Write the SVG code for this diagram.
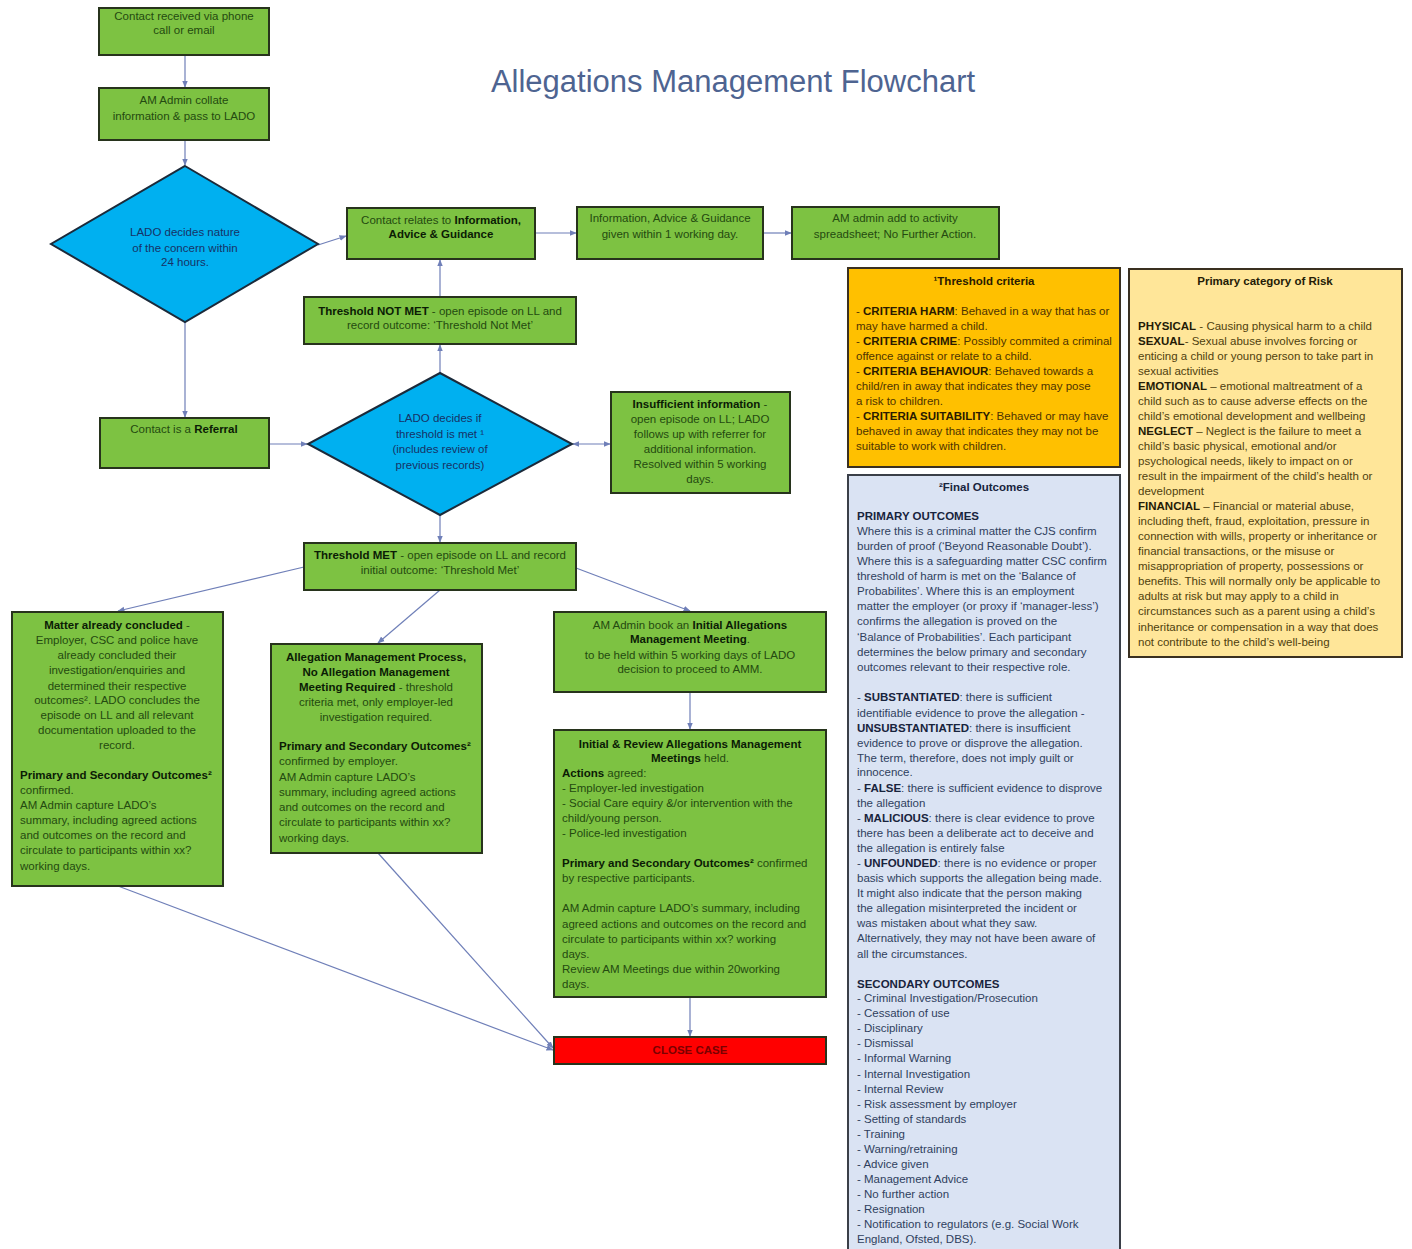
<svg xmlns="http://www.w3.org/2000/svg" width="1412" height="1249" viewBox="0 0 1412 1249">
<style>
text{font-family:"Liberation Sans",Arial,sans-serif;font-size:11.5px}
.gb{fill:#7DC242;stroke:#27331C;stroke-width:2}
.dm{fill:#00B0F0;stroke:#1B2A3A;stroke-width:2}
.gt{fill:#244A10}
.gt .b,.b{font-weight:bold}
.gt .b{fill:#0B1C05}
.c{text-anchor:middle}
.dt{fill:#173266}
.ot{fill:#4E3300}
.ot .b{fill:#2A1B00}
.yt{fill:#4F3F0E}
.yt .b{fill:#241B06}
.bt{fill:#2F3F5E}
.bt .b{fill:#18243D}
.cn line{stroke:#6F7FB8;stroke-width:1.2;fill:none}
</style>
<defs>
<marker id="ah" viewBox="0 0 10 10" refX="9" refY="5" markerWidth="6" markerHeight="6" orient="auto-start-reverse"><path d="M0,1 L10,5 L0,9 z" fill="#6F7FB8"/></marker>
</defs>
<rect width="1412" height="1249" fill="#ffffff"/>
<text x="733" y="92" class="c" style="font-size:31px;fill:#4E6491">Allegations Management Flowchart</text>

<g id="connectors" class="cn">
<line x1="185" y1="55" x2="185" y2="87" marker-end="url(#ah)"/>
<line x1="185" y1="140" x2="185" y2="165" marker-end="url(#ah)"/>
<line x1="318" y1="245" x2="346" y2="236" marker-end="url(#ah)"/>
<line x1="535" y1="233" x2="576" y2="233" marker-end="url(#ah)"/>
<line x1="763" y1="233" x2="791" y2="233" marker-end="url(#ah)"/>
<line x1="185" y1="322" x2="185" y2="417" marker-end="url(#ah)"/>
<line x1="440" y1="297" x2="440" y2="260" marker-end="url(#ah)"/>
<line x1="440" y1="373" x2="440" y2="345" marker-end="url(#ah)"/>
<line x1="269" y1="444" x2="307" y2="444" marker-end="url(#ah)"/>
<line x1="573" y1="444" x2="610" y2="444" marker-start="url(#ah)" marker-end="url(#ah)"/>
<line x1="440" y1="515" x2="440" y2="542" marker-end="url(#ah)"/>
<line x1="304" y1="567" x2="118" y2="611" marker-end="url(#ah)"/>
<line x1="440" y1="590" x2="378" y2="643" marker-end="url(#ah)"/>
<line x1="576" y1="568" x2="690" y2="611" marker-end="url(#ah)"/>
<line x1="690" y1="692" x2="690" y2="729" marker-end="url(#ah)"/>
<line x1="690" y1="997" x2="690" y2="1036" marker-end="url(#ah)"/>
<line x1="118" y1="886" x2="553" y2="1050" marker-end="url(#ah)"/>
<line x1="378" y1="853" x2="553" y2="1048" marker-end="url(#ah)"/>
</g>

<g id="n-contact-received">
<rect class="gb" x="99" y="8" width="170" height="47"/>
<text class="gt c" x="184" y="20">Contact received via phone</text>
<text class="gt c" x="184" y="34">call or email</text>
</g>
<g id="n-am-admin-collate">
<rect class="gb" x="99" y="88" width="170" height="52"/>
<text class="gt c" x="184" y="104">AM Admin collate</text>
<text class="gt c" x="184" y="120">information &amp; pass to LADO</text>
</g>
<g id="n-lado-decides-nature">
<polygon class="dm" points="185,166 318,244 185,322 51,244"/>
<text class="dt c" x="185" y="236">LADO decides nature</text>
<text class="dt c" x="185" y="252">of the concern within</text>
<text class="dt c" x="185" y="266">24 hours.</text>
</g>
<g id="n-iag">
<rect class="gb" x="347" y="208" width="188" height="51"/>
<text class="gt c" x="441" y="224">Contact relates to <tspan class="b">Information,</tspan></text>
<text class="gt c" x="441" y="238"><tspan class="b">Advice &amp; Guidance</tspan></text>
</g>
<g id="n-iag-given">
<rect class="gb" x="577" y="207" width="186" height="52"/>
<text class="gt c" x="670" y="222">Information, Advice &amp; Guidance</text>
<text class="gt c" x="670" y="238">given within 1 working day.</text>
</g>
<g id="n-am-admin-spreadsheet">
<rect class="gb" x="792" y="207" width="207" height="52"/>
<text class="gt c" x="895" y="222">AM admin add to activity</text>
<text class="gt c" x="895" y="238">spreadsheet; No Further Action.</text>
</g>
<g id="n-threshold-not-met">
<rect class="gb" x="304" y="297" width="272" height="47"/>
<text class="gt c" x="440" y="315"><tspan class="b">Threshold NOT MET</tspan> - open episode on LL and</text>
<text class="gt c" x="440" y="329">record outcome: ‘Threshold Not Met’</text>
</g>
<g id="n-referral">
<rect class="gb" x="100" y="418" width="169" height="50"/>
<text class="gt c" x="184" y="433">Contact is a <tspan class="b">Referral</tspan></text>
</g>
<g id="n-lado-threshold">
<polygon class="dm" points="440,373 572,444 440,515 308,444"/>
<text class="dt c" x="440" y="422">LADO decides if</text>
<text class="dt c" x="440" y="438">threshold is met ¹</text>
<text class="dt c" x="440" y="453">(includes review of</text>
<text class="dt c" x="440" y="469">previous records)</text>
</g>
<g id="n-insufficient">
<rect class="gb" x="611" y="392" width="179" height="101"/>
<text class="gt c" x="700" y="408"><tspan class="b">Insufficient information</tspan> -</text>
<text class="gt c" x="700" y="423">open episode on LL; LADO</text>
<text class="gt c" x="700" y="438">follows up with referrer for</text>
<text class="gt c" x="700" y="453">additional information.</text>
<text class="gt c" x="700" y="468">Resolved within 5 working</text>
<text class="gt c" x="700" y="483">days.</text>
</g>
<g id="n-threshold-met">
<rect class="gb" x="304" y="543" width="272" height="47"/>
<text class="gt c" x="440" y="559"><tspan class="b">Threshold MET</tspan> - open episode on LL and record</text>
<text class="gt c" x="440" y="574">initial outcome: ‘Threshold Met’</text>
</g>
<g id="n-matter-concluded">
<rect class="gb" x="12" y="612" width="211" height="274"/>
<text class="gt c" x="117" y="629"><tspan class="b">Matter already concluded</tspan> -</text>
<text class="gt c" x="117" y="644">Employer, CSC and police have</text>
<text class="gt c" x="117" y="659">already concluded their</text>
<text class="gt c" x="117" y="674">investigation/enquiries and</text>
<text class="gt c" x="117" y="690">determined their respective</text>
<text class="gt c" x="117" y="704">outcomes². LADO concludes the</text>
<text class="gt c" x="117" y="719">episode on LL and all relevant</text>
<text class="gt c" x="117" y="734">documentation uploaded to the</text>
<text class="gt c" x="117" y="749">record.</text>
<text class="gt" x="20" y="779"><tspan class="b">Primary and Secondary Outcomes²</tspan></text>
<text class="gt" x="20" y="794">confirmed.</text>
<text class="gt" x="20" y="809">AM Admin capture LADO’s</text>
<text class="gt" x="20" y="824">summary, including agreed actions</text>
<text class="gt" x="20" y="839">and outcomes on the record and</text>
<text class="gt" x="20" y="854">circulate to participants within xx?</text>
<text class="gt" x="20" y="870">working days.</text>
</g>
<g id="n-no-amm">
<rect class="gb" x="271" y="644" width="211" height="209"/>
<text class="gt c" x="376" y="661"><tspan class="b">Allegation Management Process,</tspan></text>
<text class="gt c" x="376" y="676"><tspan class="b">No Allegation Management</tspan></text>
<text class="gt c" x="376" y="691"><tspan class="b">Meeting Required</tspan> - threshold</text>
<text class="gt c" x="376" y="706">criteria met, only employer-led</text>
<text class="gt c" x="376" y="721">investigation required.</text>
<text class="gt" x="279" y="750"><tspan class="b">Primary and Secondary Outcomes²</tspan></text>
<text class="gt" x="279" y="765">confirmed by employer.</text>
<text class="gt" x="279" y="781">AM Admin capture LADO’s</text>
<text class="gt" x="279" y="796">summary, including agreed actions</text>
<text class="gt" x="279" y="811">and outcomes on the record and</text>
<text class="gt" x="279" y="826">circulate to participants within xx?</text>
<text class="gt" x="279" y="842">working days.</text>
</g>
<g id="n-book-amm">
<rect class="gb" x="554" y="612" width="272" height="80"/>
<text class="gt c" x="690" y="629">AM Admin book an <tspan class="b">Initial Allegations</tspan></text>
<text class="gt c" x="690" y="643"><tspan class="b">Management Meeting</tspan>.</text>
<text class="gt c" x="690" y="659">to be held within 5 working days of LADO</text>
<text class="gt c" x="690" y="673">decision to proceed to AMM.</text>
</g>
<g id="n-amm-held">
<rect class="gb" x="554" y="730" width="272" height="267"/>
<text class="gt c" x="690" y="748"><tspan class="b">Initial &amp; Review Allegations Management</tspan></text>
<text class="gt c" x="690" y="762"><tspan class="b">Meetings</tspan> held.</text>
<text class="gt" x="562" y="777"><tspan class="b">Actions</tspan> agreed:</text>
<text class="gt" x="562" y="792">- Employer-led investigation</text>
<text class="gt" x="562" y="807">- Social Care equiry &amp;/or intervention with the</text>
<text class="gt" x="562" y="822">child/young person.</text>
<text class="gt" x="562" y="837">- Police-led investigation</text>
<text class="gt" x="562" y="867"><tspan class="b">Primary and Secondary Outcomes²</tspan> confirmed</text>
<text class="gt" x="562" y="882">by respective participants.</text>
<text class="gt" x="562" y="912">AM Admin capture LADO’s summary, including</text>
<text class="gt" x="562" y="928">agreed actions and outcomes on the record and</text>
<text class="gt" x="562" y="943">circulate to participants within xx? working</text>
<text class="gt" x="562" y="958">days.</text>
<text class="gt" x="562" y="973"> Review AM Meetings due within 20working</text>
<text class="gt" x="562" y="988">days.</text>
</g>
<g id="n-close-case">
<rect x="554" y="1037" width="272" height="27" fill="#FF0000" stroke="#27331C" stroke-width="2"/>
<text class="c b" x="690" y="1054" fill="#7A0000">CLOSE CASE</text>
</g>

<g id="n-threshold-criteria">
<rect x="848" y="268" width="272" height="199" fill="#FFC000" stroke="#3A3020" stroke-width="2"/>
<text class="ot c" x="984" y="285"><tspan class="b">¹Threshold criteria</tspan></text>
<text class="ot" x="856" y="315">- <tspan class="b">CRITERIA HARM</tspan>: Behaved in a way that has or</text>
<text class="ot" x="856" y="330">may have harmed a child.</text>
<text class="ot" x="856" y="345">- <tspan class="b">CRITERIA CRIME</tspan>: Possibly commited a criminal</text>
<text class="ot" x="856" y="360">offence against or relate to a child.</text>
<text class="ot" x="856" y="375">- <tspan class="b">CRITERIA BEHAVIOUR</tspan>: Behaved towards a</text>
<text class="ot" x="856" y="390">child/ren in away that indicates they may pose</text>
<text class="ot" x="856" y="405">a risk to children.</text>
<text class="ot" x="856" y="420">- <tspan class="b">CRITERIA SUITABILITY</tspan>: Behaved or may have</text>
<text class="ot" x="856" y="435">behaved in away that indicates they may not be</text>
<text class="ot" x="856" y="450">suitable to work with children.</text>
</g>

<g id="n-primary-risk">
<rect x="1129" y="269" width="273" height="388" fill="#FFE699" stroke="#3A3020" stroke-width="2"/>
<text class="yt c" x="1265" y="285"><tspan class="b">Primary category of Risk</tspan></text>
<text class="yt" x="1138" y="330"><tspan class="b">PHYSICAL</tspan> - Causing physical harm to a child</text>
<text class="yt" x="1138" y="345"><tspan class="b">SEXUAL</tspan>- Sexual abuse involves forcing or</text>
<text class="yt" x="1138" y="360">enticing a child or young person to take part in</text>
<text class="yt" x="1138" y="375">sexual activities</text>
<text class="yt" x="1138" y="390"><tspan class="b">EMOTIONAL</tspan> – emotional maltreatment of a</text>
<text class="yt" x="1138" y="405">child such as to cause adverse effects on the</text>
<text class="yt" x="1138" y="420">child’s emotional development and wellbeing</text>
<text class="yt" x="1138" y="435"><tspan class="b">NEGLECT</tspan> – Neglect is the failure to meet a</text>
<text class="yt" x="1138" y="450">child’s basic physical, emotional and/or</text>
<text class="yt" x="1138" y="465">psychological needs, likely to impact on or</text>
<text class="yt" x="1138" y="480">result in the impairment of the child’s health or</text>
<text class="yt" x="1138" y="495">development</text>
<text class="yt" x="1138" y="510"><tspan class="b">FINANCIAL</tspan> – Financial or material abuse,</text>
<text class="yt" x="1138" y="525">including theft, fraud, exploitation, pressure in</text>
<text class="yt" x="1138" y="540">connection with wills, property or inheritance or</text>
<text class="yt" x="1138" y="555">financial transactions, or the misuse or</text>
<text class="yt" x="1138" y="570">misappropriation of property, possessions or</text>
<text class="yt" x="1138" y="585">benefits. This will normally only be applicable to</text>
<text class="yt" x="1138" y="600">adults at risk but may apply to a child in</text>
<text class="yt" x="1138" y="615">circumstances such as a parent using a child’s</text>
<text class="yt" x="1138" y="631">inheritance or compensation in a way that does</text>
<text class="yt" x="1138" y="646">not contribute to the child’s well-being</text>
</g>

<g id="n-final-outcomes">
<rect x="848" y="475" width="272" height="780" fill="#DAE3F3" stroke="#3A3F48" stroke-width="2"/>
<text class="bt c" x="984" y="491"><tspan class="b">²Final Outcomes</tspan></text>
<text class="bt" x="857" y="520"><tspan class="b">PRIMARY OUTCOMES</tspan></text>
<text class="bt" x="857" y="535">Where this is a criminal matter the CJS confirm</text>
<text class="bt" x="857" y="550">burden of proof (‘Beyond Reasonable Doubt’).</text>
<text class="bt" x="857" y="565">Where this is a safeguarding matter CSC confirm</text>
<text class="bt" x="857" y="580">threshold of harm is met on the ‘Balance of</text>
<text class="bt" x="857" y="595">Probabilites’.  Where this is an employment</text>
<text class="bt" x="857" y="610">matter the employer (or proxy if ‘manager-less’)</text>
<text class="bt" x="857" y="625">confirms the allegation is proved on the</text>
<text class="bt" x="857" y="641">‘Balance of Probabilities’.  Each participant</text>
<text class="bt" x="857" y="656">determines the below primary and secondary</text>
<text class="bt" x="857" y="671">outcomes relevant to their respective role.</text>
<text class="bt" x="857" y="701">- <tspan class="b">SUBSTANTIATED</tspan>: there is sufficient</text>
<text class="bt" x="857" y="717">identifiable evidence to prove the allegation -</text>
<text class="bt" x="857" y="732"><tspan class="b">UNSUBSTANTIATED</tspan>: there is insufficient</text>
<text class="bt" x="857" y="747">evidence to prove or disprove the allegation.</text>
<text class="bt" x="857" y="762">The term, therefore, does not imply guilt or</text>
<text class="bt" x="857" y="776">innocence.</text>
<text class="bt" x="857" y="792">- <tspan class="b">FALSE</tspan>: there is sufficient evidence to disprove</text>
<text class="bt" x="857" y="807">the allegation</text>
<text class="bt" x="857" y="822">- <tspan class="b">MALICIOUS</tspan>: there is clear evidence to prove</text>
<text class="bt" x="857" y="837">there has been a deliberate act to deceive and</text>
<text class="bt" x="857" y="852">the allegation is entirely false</text>
<text class="bt" x="857" y="867">- <tspan class="b">UNFOUNDED</tspan>: there is no evidence or proper</text>
<text class="bt" x="857" y="882">basis which supports the allegation being made.</text>
<text class="bt" x="857" y="897">It might also indicate that the person making</text>
<text class="bt" x="857" y="912">the allegation misinterpreted the incident or</text>
<text class="bt" x="857" y="927">was mistaken about what they saw.</text>
<text class="bt" x="857" y="942">Alternatively, they may not have been aware of</text>
<text class="bt" x="857" y="958">all the circumstances.</text>
<text class="bt" x="857" y="988"><tspan class="b">SECONDARY OUTCOMES</tspan></text>
<text class="bt" x="857" y="1002">- Criminal Investigation/Prosecution</text>
<text class="bt" x="857" y="1017">- Cessation of use</text>
<text class="bt" x="857" y="1032">- Disciplinary</text>
<text class="bt" x="857" y="1047">- Dismissal</text>
<text class="bt" x="857" y="1062">- Informal Warning</text>
<text class="bt" x="857" y="1078">- Internal Investigation</text>
<text class="bt" x="857" y="1093">- Internal Review</text>
<text class="bt" x="857" y="1108">- Risk assessment by employer</text>
<text class="bt" x="857" y="1123">- Setting of standards</text>
<text class="bt" x="857" y="1138">- Training</text>
<text class="bt" x="857" y="1153">- Warning/retraining</text>
<text class="bt" x="857" y="1168">- Advice given</text>
<text class="bt" x="857" y="1183">- Management Advice</text>
<text class="bt" x="857" y="1198">- No further action</text>
<text class="bt" x="857" y="1213">- Resignation</text>
<text class="bt" x="857" y="1228">- Notification to regulators (e.g. Social Work</text>
<text class="bt" x="857" y="1243">England, Ofsted, DBS).</text>
</g>
</svg>
